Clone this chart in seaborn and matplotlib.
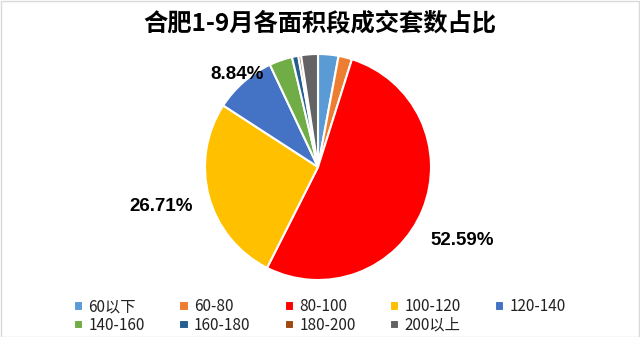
import matplotlib
matplotlib.use("Agg")
import matplotlib.pyplot as plt
import seaborn as sns
import numpy as np
from matplotlib.patches import Rectangle

sns.set_theme(style="white")
plt.rcParams['font.family'] = ['Noto Sans CJK SC', 'DejaVu Sans']

# Data
categories = ["60以下", "60-80", "80-100", "100-120", "120-140",
              "140-160", "160-180", "180-200", "200以上"]
shares = [2.92, 1.94, 52.59, 26.71, 8.84, 3.30, 0.90, 0.40, 2.40]
show_label = [False, False, True, True, True, False, False, False, False]
title = "合肥1-9月各面积段成交套数占比"

# Style
colors = sns.color_palette(["#5B9BD5", "#ED7D31", "#FF0000", "#FFC000", "#4472C4",
                            "#70AD47", "#255E91", "#9E480E", "#636363"])
label_dist = [1.3, 1.3, 1.43, 1.43, 1.09, 1.3, 1.3, 1.3, 1.3]
label_angle_shift = [0, 0, -4.7, -0.8, 0, 0, 0, 0, 0]

W, H = 640, 337
fig = plt.figure(figsize=(W / 100, H / 100), dpi=100)
fig.patch.set_facecolor("white")

cx, cy, r = 318, 167, 113
ax = fig.add_axes([(cx - r) / W, (H - cy - r) / H, 2 * r / W, 2 * r / H])
wedges, _ = ax.pie(shares, colors=colors, startangle=90, counterclock=False,
                   radius=1.0, wedgeprops=dict(edgecolor="white", linewidth=1.5))
ax.set_xlim(-1, 1)
ax.set_ylim(-1, 1)
ax.set_aspect("equal")
ax.axis("off")

for w, v, show, d, s in zip(wedges, shares, show_label, label_dist, label_angle_shift):
    if not show:
        continue
    th = np.deg2rad((w.theta1 + w.theta2) / 2 + s)
    ax.text(d * np.cos(th), d * np.sin(th), f"{v:.2f}%", ha="center", va="center",
            fontsize=13.5, fontweight="bold", color="black", clip_on=False,
            family=['Liberation Sans', 'DejaVu Sans'])

fig.text(0.5, 1 - 23 / H, title, ha="center", va="center", fontsize=17.5,
         fontweight="bold", color="black")

# legend filled row-wise (5 columns, 2 rows)
ncol = 5
nrow = int(np.ceil(len(categories) / ncol))
order = [rr * ncol + c for c in range(ncol) for rr in range(nrow)
         if rr * ncol + c < len(categories)]
leg = fig.legend([wedges[i] for i in order], [categories[i] for i in order],
                 loc="center", bbox_to_anchor=(0.5, 1 - 316 / H),
                 ncol=ncol, frameon=False, fontsize=11, handlelength=0.6,
                 handleheight=0.6, handletextpad=0.35, columnspacing=2.25,
                 labelspacing=0.1, borderpad=0)
for t in leg.get_texts():
    t.set_color("#222222")

fig.patches.append(Rectangle((0.5 / W, 0.5 / H), 1 - 1.5 / W, 1 - 1.5 / H,
                             transform=fig.transFigure, fill=False,
                             edgecolor="#D9D9D9", linewidth=1))

fig.savefig("out.png", dpi=100)
